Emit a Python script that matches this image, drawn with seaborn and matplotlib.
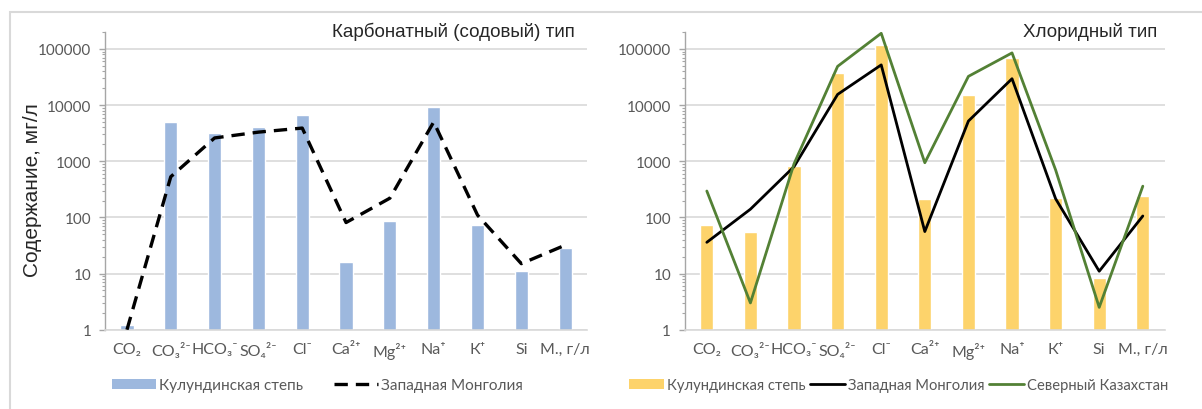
import numpy as np
import pandas as pd
import matplotlib
matplotlib.use("Agg")
import matplotlib.pyplot as plt
import matplotlib.ticker as mticker
from matplotlib.lines import Line2D
from matplotlib.patches import Patch, Rectangle
import seaborn as sns

# ---- data ----
categories = ["CO₂", "CO₃²⁻", "HCO₃⁻", "SO₄²⁻", "Cl⁻",
              "Ca²⁺", "Mg²⁺", "Na⁺", "К⁺", "Si", "М., г/л"]

# carbonate (soda) type
carb_kulunda = [1.2, 5100, 3200, 4100, 6700, 16, 85, 9400, 73, 11, 29]
carb_mongolia = [1.0, 530, 2600, 3300, 3900, 81, 220, 5000, 110, 15, 32]

# chloride type
chl_kulunda = [74, 54, 820, 37000, 118000, 210, 15000, 69000, 220, 8.3, 240]
chl_mongolia = [36, 140, 800, 15500, 52000, 56, 5200, 29500, 215, 11, 106]
chl_kazakh = [295, 3.0, 900, 49000, 190000, 940, 32500, 85000, 700, 2.5, 360]

blue = "#9DB8DE"
yellow = "#FDD36B"
green = "#538135"
grey_txt = "#595959"
grid_col = "#D9D9D9"

sns.set_theme(style="white")
plt.rcParams["font.family"] = ["Lato", "DejaVu Sans"]

fig = plt.figure(figsize=(12.02, 4.10), dpi=100)
ax1 = fig.add_axes([0.0874, 0.1934, 0.401, 0.726])
ax2 = fig.add_axes([0.5699, 0.1934, 0.399, 0.726])

df1 = pd.DataFrame({"cat": categories, "kul": carb_kulunda, "mon": carb_mongolia})
df2 = pd.DataFrame({"cat": categories, "kul": chl_kulunda, "mon": chl_mongolia,
                    "kaz": chl_kazakh})

sns.barplot(data=df1, x="cat", y="kul", color=blue, width=0.30, saturation=1,
            ax=ax1, zorder=2)
sns.lineplot(data=df1, x="cat", y="mon", color="black", sort=False, lw=2.4,
             ax=ax1, zorder=3)
ax1.lines[-1].set_dashes((4, 2.4))

sns.barplot(data=df2, x="cat", y="kul", color=yellow, width=0.30, saturation=1,
            ax=ax2, zorder=2)
sns.lineplot(data=df2, x="cat", y="mon", color="black", sort=False, lw=2.0,
             ax=ax2, zorder=3)
sns.lineplot(data=df2, x="cat", y="kaz", color=green, sort=False, lw=2.0,
             ax=ax2, zorder=3)

for ax in (ax1, ax2):
    ax.set_yscale("log")
    ax.set_ylim(1, 2.0e5)
    ax.set_xlim(-0.5, len(categories) - 0.5)
    ax.set_xlabel("")
    ax.set_ylabel("")
    ax.yaxis.set_major_locator(mticker.LogLocator(base=10, numticks=10))
    ax.yaxis.set_major_formatter(mticker.FuncFormatter(lambda v, p: f"{v:.0f}"))
    ax.yaxis.set_minor_locator(mticker.LogLocator(base=10, subs=np.arange(2, 10), numticks=20))
    ax.yaxis.set_minor_formatter(mticker.NullFormatter())
    ax.grid(axis="y", which="major", color=grid_col, lw=1.2)
    ax.set_axisbelow(True)
    for s in ("top", "right"):
        ax.spines[s].set_visible(False)
    ax.spines["left"].set_color("#A6A6A6")
    ax.spines["left"].set_linewidth(1.0)
    ax.spines["bottom"].set_color(grid_col)
    ax.spines["bottom"].set_linewidth(1.2)
    ax.tick_params(axis="y", which="major", left=True, length=4, width=1,
                   color="#A6A6A6", labelsize=11, labelcolor=grey_txt, pad=6)
    ax.tick_params(axis="y", which="minor", left=True, length=2.5, width=0.8,
                   color="#A6A6A6")
    ax.tick_params(axis="x", length=0, labelsize=11.5, labelcolor=grey_txt, pad=9)

fig.text(0.478, 0.922, "Карбонатный (содовый) тип", ha="right", va="center",
         fontsize=13.5, family=["Liberation Sans", "DejaVu Sans"], color="#262626")
fig.text(0.963, 0.922, "Хлоридный тип", ha="right", va="center",
         fontsize=13.5, family=["Liberation Sans", "DejaVu Sans"], color="#262626")
fig.text(0.027, 0.537, "Содержание, мг/л", rotation=90, ha="center", va="center",
         fontsize=15, family=["Liberation Sans", "DejaVu Sans"], color="#262626")

h1 = [Patch(facecolor=blue, edgecolor="none"),
      Line2D([], [], color="black", lw=2.4, dashes=(4, 2.4))]
fig.legend(h1, ["Кулундинская степь", "Западная Монголия"], loc="center left",
           bbox_to_anchor=(0.0932, 0.058), ncol=2, frameon=False, fontsize=11,
           handlelength=2.9, handleheight=0.6, handletextpad=0.2,
           columnspacing=2.0, borderpad=0, borderaxespad=0, labelcolor=grey_txt)

h2 = [Patch(facecolor=yellow, edgecolor="none"),
      Line2D([], [], color="black", lw=2.0),
      Line2D([], [], color=green, lw=2.0)]
fig.legend(h2, ["Кулундинская степь", "Западная Монголия", "Северный Казахстан"],
           loc="center left", bbox_to_anchor=(0.523, 0.058), ncol=3, frameon=False,
           fontsize=10.6, handlelength=2.4, handleheight=0.6, handletextpad=0.2,
           columnspacing=0.3, borderpad=0, borderaxespad=0, labelcolor=grey_txt)

fig.patches.append(Rectangle((0.008, -0.2), 1.2, 1.168, transform=fig.transFigure,
                             fill=False, edgecolor=grid_col, lw=1.5))

fig.savefig("out.png", dpi=100, facecolor="white")
